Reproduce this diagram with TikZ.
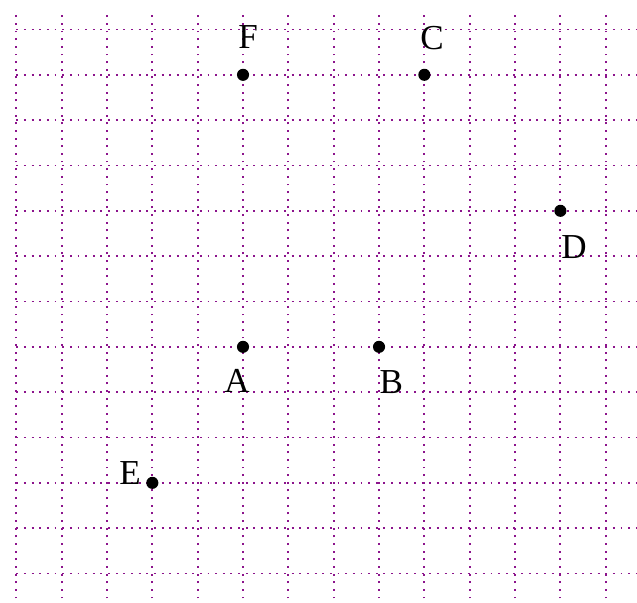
\documentclass[tikz,border=0pt]{standalone}
\usepackage{fontspec}
\setmainfont{Liberation Serif}
\definecolor{gridpurple}{RGB}{140,20,140}
\tikzset{
  gridline/.style={draw=gridpurple, line width=0.6pt, dash pattern=on 0.6pt off 1.8pt},
  pt/.style={circle, fill=black, inner sep=0pt, minimum size=3.8pt},
  lbl/.style={inner sep=0pt, font=\fontsize{11}{13}\selectfont}
}
\begin{document}
\begin{tikzpicture}[x=0.5cm,y=0.5cm]
\useasboundingbox (-5.36,-5.63) rectangle (8.69,7.65);
\foreach \x in {-5,...,8} \draw[gridline] (\x,-5.55) -- (\x,7.35);
\foreach \y in {-5,...,7} \draw[gridline] (-5,\y) -- (8.69,\y);
\node[pt] (A) at (0,0) {};
\node[pt] (B) at (3,0) {};
\node[pt] (C) at (4,6) {};
\node[pt] (D) at (7,3) {};
\node[pt] (E) at (-2,-3) {};
\node[pt] (F) at (0,6) {};
\node[lbl] (lA) at (-0.13,-0.76) {A};
\node[lbl] (lB) at (3.27,-0.77) {B};
\node[lbl] (lC) at (4.17,6.82) {C};
\node[lbl] (lD) at (7.30,2.21) {D};
\node[lbl] (lE) at (-2.49,-2.79) {E};
\node[lbl] (lF) at (0.11,6.83) {F};
\end{tikzpicture}
\end{document}
